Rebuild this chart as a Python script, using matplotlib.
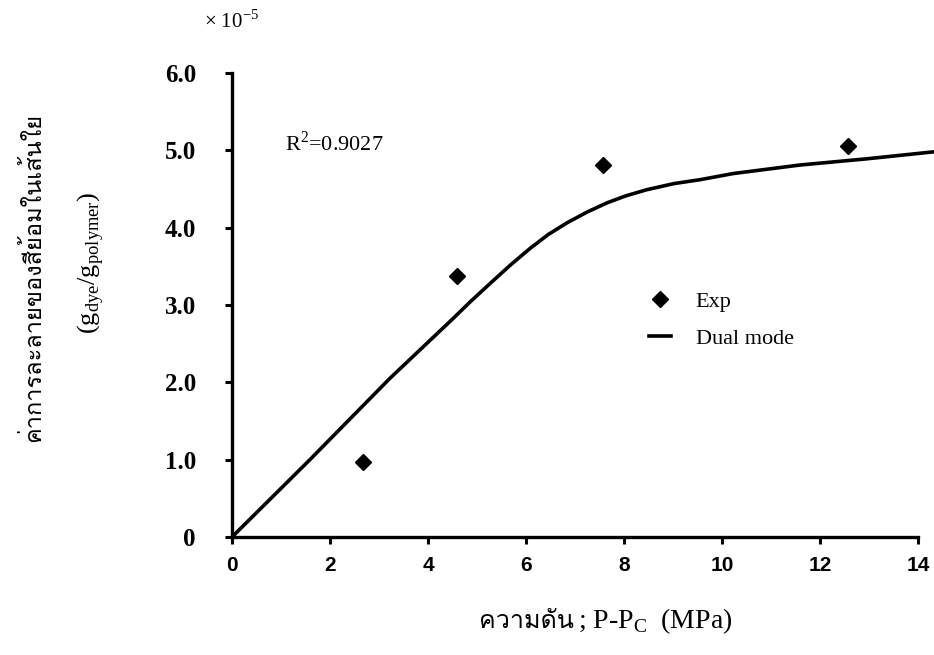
import matplotlib
matplotlib.use("Agg")
import matplotlib.pyplot as plt
from matplotlib import font_manager
from matplotlib.ft2font import FT2Font

# Experimental points (x: P-Pc in MPa, y: uptake in 1e-5 g/g)
exp_p = [2.67, 4.59, 7.57, 12.57]
exp_s = [0.97, 3.38, 4.81, 5.06]

# Dual mode model curve
model_p = [0.0, 1.59, 3.22, 4.52, 4.86, 5.27, 5.67, 6.08, 6.45, 6.83, 7.24,
           7.65, 8.03, 8.46, 9.02, 9.55, 10.23, 11.59, 12.95, 14.31]
model_s = [0.0, 1.00, 2.05, 2.83, 3.04, 3.28, 3.51, 3.73, 3.91, 4.06, 4.20,
           4.32, 4.41, 4.49, 4.57, 4.62, 4.70, 4.81, 4.89, 4.98]

xticks = [0, 2, 4, 6, 8, 10, 12, 14]
yticks = [0, 1, 2, 3, 4, 5, 6]
ytick_labels = ["0", "1.0", "2.0", "3.0", "4.0", "5.0", "6.0"]


def thai_font():
    # find an installed font that has Thai glyphs
    for f in font_manager.fontManager.ttflist:
        try:
            cmap = FT2Font(f.fname).get_charmap()
        except Exception:
            continue
        if 0x0E04 in cmap and 0x0E27 in cmap:
            return f.name
    return "DejaVu Sans"


thai = thai_font()
serif = ["Liberation Serif", "DejaVu Serif"]

W, H = 934, 655
fig = plt.figure(figsize=(W / 100, H / 100), dpi=100)
# axes: x=0 at 232 px, y=0 at 537 px, y=6 at 73 px, runs to the right edge
ax = fig.add_axes([232 / W, 1 - 537 / H, 1 - 232 / W, (537 - 73) / H])

ax.plot(model_p, model_s, color="black", linewidth=2.6, label="Dual mode",
        clip_on=False)
ax.plot(exp_p, exp_s, linestyle="none", marker="D", markersize=8.5,
        color="black", label="Exp")

ax.set_xlim(0, (W - 232) / 49.0)
ax.set_ylim(0, 6)
ax.spines["top"].set_visible(False)
ax.spines["right"].set_visible(False)
ax.spines["left"].set_linewidth(2.4)
ax.spines["bottom"].set_linewidth(2.4)
ax.spines["bottom"].set_bounds(0, 14)

ax.set_xticks(xticks)
ax.set_xticklabels([str(t) for t in xticks], family=["Liberation Sans", "DejaVu Sans"],
                   fontsize=15, fontweight="bold")
ax.set_yticks(yticks)
ax.set_yticklabels(ytick_labels, family=serif, fontsize=18, fontweight="bold")
ax.tick_params(axis="both", direction="out", length=5, width=2.2)
ax.tick_params(axis="x", pad=9)
ax.tick_params(axis="y", pad=21)

# legend in the order Exp, Dual mode
handles, labels = ax.get_legend_handles_labels()
ax.legend([handles[1], handles[0]], [labels[1], labels[0]], loc="upper left",
          bbox_to_anchor=(649 / W, 1 - 291 / H), bbox_transform=fig.transFigure,
          frameon=False, handlelength=1.0, prop={"family": serif, "size": 16},
          labelspacing=0.75, handletextpad=1.1, borderpad=0, borderaxespad=0)

fig.text(285 / W, 1 - 143 / H, "R$^\\mathregular{2}$=0.9027", family=serif,
         fontsize=16, va="center")

fig.text(204 / W, 1 - 22 / H, "\u00d7 10$^\\mathregular{-5}$", family=serif,
         fontsize=15, va="center")

# x axis title: Thai word and the latin part as two texts (mathtext has no font fallback)
fig.text(574 / W, 1 - 621 / H, "ความดัน", family=[thai, "DejaVu Sans"],
         fontsize=18, ha="right", va="center")
fig.text(578 / W, 1 - 621 / H, "; P-P$_\\mathregular{C}$  (MPa)",
         family=serif, fontsize=20, ha="left", va="center")

# y axis title
fig.text(33 / W, 1 - 277 / H, "ค่าการละลายของสีย้อมในเส้นใย",
         family=[thai, "DejaVu Sans"], fontsize=17, rotation=90,
         ha="center", va="center")
fig.text(90 / W, 1 - 263 / H,
         "(g$_\\mathregular{dye}$/g$_\\mathregular{polymer}$)",
         family=serif, fontsize=19, rotation=90, ha="center", va="center")

fig.savefig("out.png", dpi=100)
